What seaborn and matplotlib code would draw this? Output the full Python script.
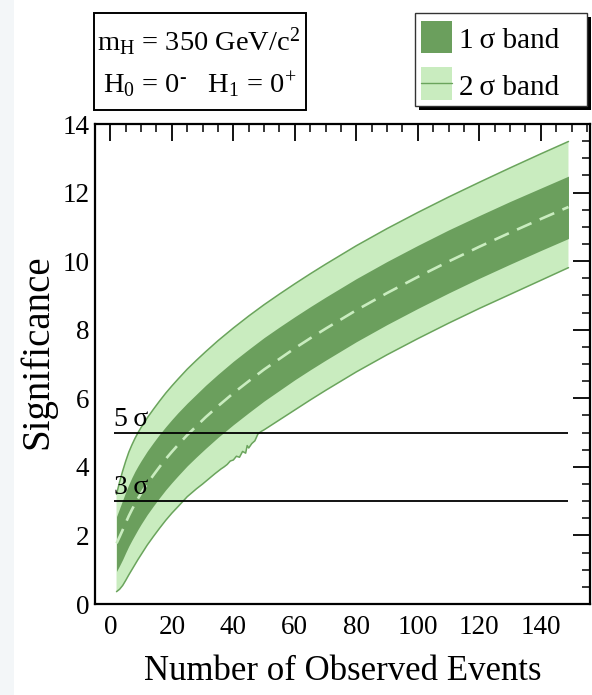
import matplotlib
matplotlib.use("Agg")
import matplotlib.pyplot as plt
from matplotlib.patches import Rectangle
import seaborn as sns
import pandas as pd

# ---- data ----
n_events = [2, 3, 4, 5, 6, 7, 8, 9, 10, 12, 14, 16, 18, 20, 22, 25, 28, 31, 35, 40, 45, 50, 55, 60, 65, 70, 80, 90, 100, 110, 120, 130, 140, 149]
median = [1.77, 1.96, 2.16, 2.37, 2.57, 2.75, 2.92, 3.08, 3.23, 3.51, 3.76, 4.0, 4.23, 4.44, 4.64, 4.93, 5.19, 5.45, 5.77, 6.15, 6.5, 6.84, 7.15, 7.46, 7.75, 8.03, 8.57, 9.07, 9.54, 9.99, 10.42, 10.83, 11.23, 11.58]
one_sigma_hi = [2.55, 2.79, 3.03, 3.27, 3.49, 3.69, 3.87, 4.03, 4.18, 4.46, 4.71, 4.95, 5.17, 5.38, 5.58, 5.86, 6.12, 6.38, 6.7, 7.08, 7.43, 7.77, 8.08, 8.38, 8.67, 8.95, 9.49, 9.99, 10.46, 10.91, 11.33, 11.74, 12.13, 12.48]
one_sigma_lo = [0.95, 1.12, 1.3, 1.5, 1.69, 1.86, 2.02, 2.18, 2.33, 2.61, 2.86, 3.1, 3.33, 3.54, 3.74, 4.03, 4.29, 4.54, 4.86, 5.23, 5.58, 5.92, 6.23, 6.54, 6.83, 7.11, 7.65, 8.15, 8.62, 9.07, 9.5, 9.91, 10.31, 10.66]
two_sigma_hi = [3.2, 3.56, 3.88, 4.17, 4.43, 4.64, 4.83, 5.0, 5.15, 5.43, 5.68, 5.92, 6.15, 6.36, 6.56, 6.85, 7.11, 7.36, 7.68, 8.05, 8.4, 8.73, 9.04, 9.34, 9.63, 9.91, 10.45, 10.95, 11.42, 11.87, 12.3, 12.72, 13.13, 13.49]

n_lower2 = [2, 3, 4, 5, 6, 7, 8, 9, 10, 12, 14, 16, 18, 20, 22, 25, 28, 30, 32, 34, 36, 37, 38, 39, 40, 41, 42, 43, 44, 44.5, 45, 46, 47, 48, 49, 50, 55, 60, 65, 70, 80, 90, 100, 110, 120, 130, 140, 149]
two_sigma_lo = [0.36, 0.43, 0.54, 0.69, 0.85, 1.0, 1.15, 1.3, 1.44, 1.72, 1.97, 2.21, 2.44, 2.65, 2.84, 3.13, 3.36, 3.5, 3.65, 3.8, 3.94, 4.0, 4.07, 4.17, 4.2, 4.31, 4.28, 4.45, 4.4, 4.62, 4.55, 4.68, 4.76, 4.96, 5.03, 5.08, 5.37, 5.66, 5.95, 6.23, 6.77, 7.27, 7.74, 8.19, 8.62, 9.03, 9.44, 9.81]

ref_levels = [5, 3]
ref_labels = ["5\u2009σ", "3\u2009σ"]

DARK = "#6b9f5d"
LIGHT = "#c9ecbf"
EDGE = "#6aa45c"

sns.set_theme(style="white")
plt.rcParams["font.family"] = ["Liberation Serif", "DejaVu Serif"]
plt.rcParams["text.color"] = "black"
plt.rcParams["mathtext.fontset"] = "custom"
plt.rcParams["mathtext.rm"] = "Liberation Serif"
plt.rcParams["mathtext.it"] = "Liberation Serif:italic"

fig = plt.figure(figsize=(5.92, 6.95), dpi=100)
fig.patch.set_facecolor("white")
fig.patches.append(Rectangle((0, 0), 14 / 592, 1, transform=fig.transFigure,
                             facecolor="#f3f6f8", edgecolor="none", zorder=0))

ax = fig.add_axes([95 / 592, 1 - 604 / 695, 495 / 592, 480 / 695])

df = pd.DataFrame({"n": n_events, "median": median, "hi1": one_sigma_hi,
                   "lo1": one_sigma_lo, "hi2": two_sigma_hi})
dfl = pd.DataFrame({"n": n_lower2, "lo2": two_sigma_lo})

# 2 sigma band
poly_x = list(df["n"]) + list(dfl["n"])[::-1]
poly_y = list(df["hi2"]) + list(dfl["lo2"])[::-1]
ax.fill(poly_x, poly_y, color=LIGHT, lw=0, zorder=1)
sns.lineplot(data=df, x="n", y="hi2", color=EDGE, lw=1.1, ax=ax, zorder=2)
sns.lineplot(data=dfl, x="n", y="lo2", color=EDGE, lw=1.1, ax=ax, zorder=2)

# 1 sigma band
ax.fill_between(df["n"], df["lo1"], df["hi1"], color=DARK, lw=0, zorder=3)

# median
sns.lineplot(data=df, x="n", y="median", color=LIGHT, lw=1.9, ax=ax, zorder=4)
ax.lines[-1].set_dashes((6, 3.4))

# reference lines
for lev, lab in zip(ref_levels, ref_labels):
    ax.hlines(lev, 1.2, 149, color="black", lw=1.3, zorder=5)
    ax.text(1.3, lev + 0.2, lab, fontsize=20, ha="left", va="baseline", zorder=6,
            color="black")

ax.set_xlim(-5, 156)
ax.set_ylim(0, 14)
ax.set_xticks([0, 20, 40, 60, 80, 100, 120, 140])
ax.set_xticks(range(-5, 156, 5), minor=True)
ax.set_yticks([0, 2, 4, 6, 8, 10, 12, 14])
ax.set_yticks([i * 0.5 for i in range(29)], minor=True)
ax.tick_params(axis="both", which="both", direction="in", top=True, right=True,
               colors="black", labelsize=19.5)
ax.tick_params(axis="both", which="major", length=12, width=1.3)
ax.tick_params(axis="both", which="minor", length=6, width=1.1)
ax.tick_params(axis="x", which="major", pad=8)
ax.tick_params(axis="y", which="major", pad=4)
for s in ax.spines.values():
    s.set_color("black")
    s.set_linewidth(1.6)
ax.set_xlabel("")
ax.set_ylabel("")
fig.text(343 / 592, 1 - 672 / 695, "Number of Observed Events", fontsize=25,
         ha="center", va="center", color="black")
fig.text(38 / 592, 1 - 352 / 695, "Significance", fontsize=28, rotation=90,
         ha="center", va="center", color="black")

# info box (left)
fig.patches.append(Rectangle((94 / 592, 1 - 110 / 695), 212 / 592, 97 / 695,
                             transform=fig.transFigure, facecolor="white",
                             edgecolor="black", lw=1.4))
fig.text(199 / 592, 1 - 42 / 695, r"m$_{\mathrm{H}}$ = 350 GeV/c$^{2}$", fontsize=20.5,
         ha="center", va="center", color="black")
fig.text(200 / 592, 1 - 85 / 695, r"H$_{0}$ = 0$^{\mathrm{\text{-}}}$   H$_{1}$ = 0$^{+}$",
         fontsize=20.5, ha="center", va="center", color="black")

# legend (right) with shadow
fig.patches.append(Rectangle((419 / 592, 1 - 110 / 695), 172 / 592, 93 / 695,
                             transform=fig.transFigure, facecolor="black",
                             edgecolor="black", lw=0))
fig.patches.append(Rectangle((415 / 592, 1 - 106 / 695), 172 / 592, 93 / 695,
                             transform=fig.transFigure, facecolor="white",
                             edgecolor="#333333", lw=1.0))
fig.patches.append(Rectangle((421 / 592, 1 - 53 / 695), 31 / 592, 32 / 695,
                             transform=fig.transFigure, facecolor=DARK, lw=0))
fig.patches.append(Rectangle((421 / 592, 1 - 100 / 695), 31 / 592, 33 / 695,
                             transform=fig.transFigure, facecolor=LIGHT, lw=0))
fig.lines.append(plt.Line2D([421 / 592, 452 / 592], [1 - 83 / 695] * 2,
                            transform=fig.transFigure, color=EDGE, lw=1.0))
fig.text(459 / 592, 1 - 41 / 695, "1\u2009σ band", fontsize=21, ha="left", va="center",
         color="black")
fig.text(459 / 592, 1 - 88 / 695, "2\u2009σ band", fontsize=21, ha="left", va="center",
         color="black")

fig.savefig("out.png", dpi=100)
